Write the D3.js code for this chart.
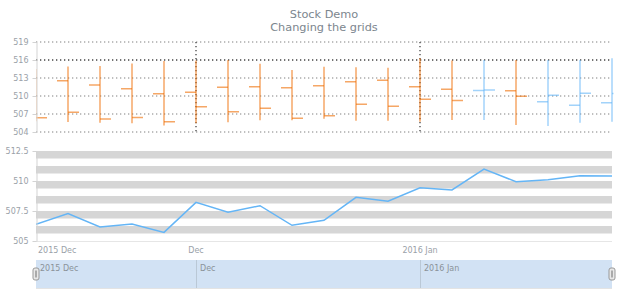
<!DOCTYPE html>
<html>
<head>
<meta charset="utf-8">
<script src="https://cdn.jsdelivr.net/npm/d3@7"></script>
<style>
  body { margin: 0; background: #fff; }
  text { font-family: "DejaVu Sans", Verdana, sans-serif; }
</style>
</head>
<body>
<script>
// OHLC values, one per period
var opens  = [511.0, 512.55, 511.83, 511.22, 510.39, 510.61, 511.44, 511.56, 511.39, 511.72, 512.39, 512.61, 511.56, 511.11, 510.9, 510.89, 509.06, 508.44, 508.89];
var highs  = [514.5, 514.9, 515.0, 515.4, 515.83, 515.9, 516.0, 515.39, 514.33, 514.89, 514.78, 514.72, 516.28, 515.9, 516.0, 516.0, 516.0, 516.0, 516.3];
var lows   = [505.8, 505.67, 505.56, 505.44, 505.1, 505.44, 505.61, 505.94, 505.94, 506.22, 505.89, 505.89, 505.72, 506.0, 506.0, 505.17, 505.0, 505.56, 505.72];
var closes = [506.39, 507.28, 506.17, 506.42, 505.72, 508.22, 507.39, 507.94, 506.31, 506.72, 508.64, 508.31, 509.44, 509.25, 511.0, 509.94, 510.11, 510.44, 510.42];

// x tick labels sit on these periods
var tickIdx = [0, 5, 12];
var tickLabels = ["2015 Dec", "Dec", "2016 Jan"];

var topTicks = [504, 507, 510, 513, 516, 519];
var botTicks = [505, 507.5, 510, 512.5];

var W = 620, H = 300;
var left = 36, right = 612;

var svg = d3.select("body").append("svg")
  .attr("width", W)
  .attr("height", H);

// title
svg.append("text").attr("x", 324).attr("y", 18)
  .attr("text-anchor", "middle").attr("fill", "#7c868e")
  .style("font-size", "11.3px").text("Stock Demo");
svg.append("text").attr("x", 324).attr("y", 31)
  .attr("text-anchor", "middle").attr("fill", "#7c868e")
  .style("font-size", "11.3px").text("Changing the grids");

var x = d3.scalePoint()
  .domain(d3.range(closes.length))
  .range([left, right]);

var yTop = d3.scaleLinear().domain([504, 519]).range([132, 42]);
var yBot = d3.scaleLinear().domain([505, 512.5]).range([241, 151]);

var defs = svg.append("defs");
defs.append("clipPath").attr("id", "clipTop")
  .append("rect").attr("x", 36.5).attr("y", 30).attr("width", 577).attr("height", 110);
defs.append("clipPath").attr("id", "clipBot")
  .append("rect").attr("x", 36).attr("y", 150).attr("width", 577).attr("height", 92);

// ---- top panel: dotted grid
var topGrid = svg.append("g");
topGrid.selectAll("line.h")
  .data(topTicks)
  .enter().append("line")
  .attr("x1", left).attr("x2", right)
  .attr("y1", function(d) { return yTop(d); })
  .attr("y2", function(d) { return yTop(d); })
  .attr("stroke", function(d) { return d == 516 ? "#444" : "#aaa"; })
  .attr("stroke-width", 1.3)
  .attr("stroke-dasharray", "1.3,2.7");

topGrid.selectAll("line.v")
  .data(tickIdx.slice(1))
  .enter().append("line")
  .attr("x1", function(d) { return x(d); })
  .attr("x2", function(d) { return x(d); })
  .attr("y1", yTop(519)).attr("y2", yTop(504))
  .attr("stroke", "#444")
  .attr("stroke-width", 1.3)
  .attr("stroke-dasharray", "1.3,2.7");

// ohlc bars
var bars = svg.append("g").attr("clip-path", "url(#clipTop)")
  .selectAll("g")
  .data(d3.range(closes.length))
  .enter().append("g")
  .attr("stroke", function(i) { return closes[i] >= opens[i] ? "#64b5f6" : "#ef6c00"; })
  .attr("stroke-width", 1.5)
  .attr("stroke-opacity", 0.6);

bars.append("line")
  .attr("x1", function(i) { return x(i); })
  .attr("x2", function(i) { return x(i); })
  .attr("y1", function(i) { return yTop(highs[i]); })
  .attr("y2", function(i) { return yTop(lows[i]); });
bars.append("line")
  .attr("x1", function(i) { return x(i) - 11; })
  .attr("x2", function(i) { return x(i); })
  .attr("y1", function(i) { return yTop(opens[i]); })
  .attr("y2", function(i) { return yTop(opens[i]); });
bars.append("line")
  .attr("x1", function(i) { return x(i); })
  .attr("x2", function(i) { return x(i) + 11; })
  .attr("y1", function(i) { return yTop(closes[i]); })
  .attr("y2", function(i) { return yTop(closes[i]); });

var yAxisTop = svg.append("g")
  .attr("transform", "translate(" + (left + 0.5) + ",0)")
  .call(d3.axisLeft(yTop).tickValues(topTicks).tickSize(4).tickPadding(4).tickSizeOuter(0));

// ---- bottom panel: striped bands
var bandStep = 0.625;
var bands = d3.range(505, 512.5, bandStep);
svg.append("g").selectAll("rect")
  .data(bands)
  .enter().append("rect")
  .attr("x", left)
  .attr("width", right - left)
  .attr("y", function(d) { return yBot(d + bandStep); })
  .attr("height", function(d) { return yBot(d) - yBot(d + bandStep); })
  .attr("fill", function(d, i) { return i % 2 ? "#d6d6d6" : "#fff"; });

svg.append("line")
  .attr("x1", left).attr("x2", right)
  .attr("y1", 241.5).attr("y2", 241.5)
  .attr("stroke", "#e6e6e6");

var line = d3.line()
  .x(function(d, i) { return x(i); })
  .y(function(d) { return yBot(d); });

svg.append("path")
  .datum(closes)
  .attr("clip-path", "url(#clipBot)")
  .attr("d", line)
  .attr("fill", "none")
  .attr("stroke", "#64b5f6")
  .attr("stroke-width", 1.5);

var yAxisBot = svg.append("g")
  .attr("transform", "translate(" + (left + 0.5) + ",0)")
  .call(d3.axisLeft(yBot).tickValues(botTicks).tickSize(4).tickPadding(4).tickSizeOuter(0)
    .tickFormat(function(d) { return d; }));

[yAxisTop, yAxisBot].forEach(function(a) {
  a.selectAll("path, line").attr("stroke", "#d3d3d3");
  a.selectAll("text").attr("fill", "#9aa1a8").style("font-size", "8px");
});

// bottom x labels
svg.append("g").selectAll("text")
  .data(tickIdx)
  .enter().append("text")
  .attr("x", function(d, i) { return i == 0 ? x(d) + 2 : x(d); })
  .attr("y", 253)
  .attr("text-anchor", function(d, i) { return i == 0 ? "start" : "middle"; })
  .attr("fill", "#9aa1a8")
  .style("font-size", "8px")
  .text(function(d, i) { return tickLabels[i]; });

// ---- scroller
var scroller = svg.append("g");
scroller.append("rect")
  .attr("x", left).attr("y", 260)
  .attr("width", right - left).attr("height", 28)
  .attr("fill", "#d2e2f4");
scroller.append("line")
  .attr("x1", left).attr("x2", right)
  .attr("y1", 288.5).attr("y2", 288.5)
  .attr("stroke", "#e3e3e3");
scroller.selectAll("line.div")
  .data(tickIdx.slice(1))
  .enter().append("line")
  .attr("x1", function(d) { return x(d) + 0.5; })
  .attr("x2", function(d) { return x(d) + 0.5; })
  .attr("y1", 260).attr("y2", 288)
  .attr("stroke", "#bac8d6");
scroller.selectAll("text")
  .data(tickIdx)
  .enter().append("text")
  .attr("x", function(d) { return x(d) + 4; })
  .attr("y", 271)
  .attr("fill", "#8a9299")
  .style("font-size", "8px")
  .text(function(d, i) { return tickLabels[i]; });

[left, right].forEach(function(hx) {
  scroller.append("rect")
    .attr("x", hx - 3).attr("y", 268)
    .attr("width", 6).attr("height", 12).attr("rx", 2)
    .attr("fill", "#e8e8e8").attr("stroke", "#999");
  scroller.append("rect")
    .attr("x", hx - 1).attr("y", 270.5)
    .attr("width", 2).attr("height", 7)
    .attr("fill", "#aaa");
});
</script>
</body>
</html>
